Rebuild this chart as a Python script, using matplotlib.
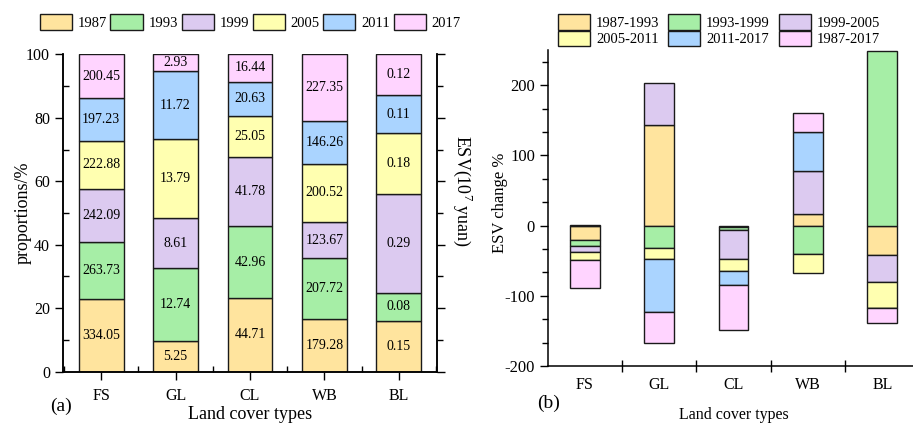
import numpy as np
import matplotlib
matplotlib.use('Agg')
from matplotlib import pyplot as plt
from matplotlib.ticker import MultipleLocator, FixedLocator, FixedFormatter, NullFormatter

plt.rcParams['font.family'] = ['Liberation Serif', 'DejaVu Serif']
plt.rcParams['mathtext.fontset'] = 'custom'
plt.rcParams['mathtext.rm'] = 'Liberation Serif'
plt.rcParams['axes.linewidth'] = 1.1
plt.rcParams['axes.unicode_minus'] = False

# land cover types
types = ['FS', 'GL', 'CL', 'WB', 'BL']

# (a) ESV (10^7 yuan) per year
years = ['1987', '1993', '1999', '2005', '2011', '2017']
esv_1987 = [334.05, 5.25, 44.71, 179.28, 0.15]
esv_1993 = [263.73, 12.74, 42.96, 207.72, 0.08]
esv_1999 = [242.09, 8.61, 41.78, 123.67, 0.29]
esv_2005 = [222.88, 13.79, 25.05, 200.52, 0.18]
esv_2011 = [197.23, 11.72, 20.63, 146.26, 0.11]
esv_2017 = [200.45, 2.93, 16.44, 227.35, 0.12]

# (b) ESV change %
periods = ['1987-1993', '1993-1999', '1999-2005', '2005-2011', '2011-2017', '1987-2017']
chg_1987_1993 = [-21.0, 142.6, -2.5, 15.9, -41.8]
chg_1993_1999 = [-8.0, -32.4, -3.5, -40.9, 249.0]
chg_1999_2005 = [-8.1, 60.5, -41.5, 61.8, -37.9]
chg_2005_2011 = [-11.9, -15.1, -17.0, -26.9, -37.7]
chg_2011_2017 = [1.0, -75.2, -20.3, 55.9, 0.0]
chg_1987_2017 = [-40.1, -44.4, -63.4, 26.4, -21.3]

colors = ['#FFE49E', '#A6EEA6', '#DCCAF0', '#FFFFB0', '#AAD4FF', '#FFD4FF']

fig = plt.figure(figsize=(9.13, 4.25), dpi=100)

# ---------------- (a) ----------------
ax1 = fig.add_axes([0.0693, 0.1254, 0.409, 0.7468])
esv = np.array([esv_1987, esv_1993, esv_1999, esv_2005, esv_2011, esv_2017])
share = esv / esv.sum(axis=0) * 100
x = np.arange(len(types))
bottom = np.zeros(len(types))
for i in range(len(years)):
    bars = ax1.bar(x, share[i], 0.6, bottom=bottom, color=colors[i],
                   edgecolor='#1a1a1a', linewidth=1.0, label=years[i])
    ax1.bar_label(bars, labels=['%.2f' % v for v in esv[i]], label_type='center',
                  fontsize=10)
    bottom += share[i]

ax1.set_xlim(-0.51, 4.51)
ax1.set_ylim(0, 100)
ax1.spines['top'].set_visible(False)
ax1.set_xticks(x)
ax1.set_xticklabels(types, fontsize=11.5)
ax1.xaxis.set_minor_locator(FixedLocator(np.arange(-0.5, 5, 1)))
ax1.tick_params(axis='x', which='major', direction='out', length=6, width=1, pad=6)
ax1.tick_params(axis='x', which='minor', direction='in', length=4, width=1)
ax1.yaxis.set_major_locator(MultipleLocator(20))
ax1.yaxis.set_minor_locator(MultipleLocator(10))
ax1.tick_params(axis='y', which='major', direction='out', length=6, width=1, labelsize=11.5)
ax1.tick_params(axis='y', which='minor', direction='in', length=4, width=1)
ax1.set_ylabel('proportions/%', fontsize=13)
ax1.yaxis.set_label_coords(-0.084, 0.5)
ax1.set_xlabel('Land cover types', fontsize=13)
ax1.xaxis.set_label_coords(0.5, -0.108)

ax1r = ax1.twinx()
ax1r.set_ylim(0, 100)
ax1r.spines['top'].set_visible(False)
ax1r.yaxis.set_major_locator(MultipleLocator(20))
ax1r.yaxis.set_minor_locator(MultipleLocator(10))
ax1r.yaxis.set_major_formatter(NullFormatter())
ax1r.tick_params(axis='y', which='major', direction='out', length=6, width=1)
ax1r.tick_params(axis='y', which='minor', direction='out', length=4, width=1)
fig.text(463 / 913, 1 - 191 / 425, r'ESV(10$^7$ yuan)', fontsize=13, rotation=270,
         ha='center', va='center')

ax1.legend(loc='center', bbox_to_anchor=(0.274, 0.948), bbox_transform=fig.transFigure,
           ncol=6, frameon=False, fontsize=10.5, handlelength=2.2, handleheight=1.3,
           handletextpad=0.4, columnspacing=0.25)
fig.text(0.055, 0.033, '(a)', fontsize=14)

# ---------------- (b) ----------------
ax2 = fig.add_axes([0.6005, 0.1388, 0.4066, 0.7435])
chg = np.array([chg_1987_1993, chg_1993_1999, chg_1999_2005,
                chg_2005_2011, chg_2011_2017, chg_1987_2017])
pos = np.zeros(len(types))
neg = np.zeros(len(types))
handles = []
for i in range(len(periods)):
    vals = chg[i]
    base = np.where(vals > 0, pos, neg)
    h = ax2.bar(x, vals, 0.4, bottom=base, color=colors[i], edgecolor='#1a1a1a',
                linewidth=1.0, label=periods[i])
    handles.append(h)
    pos += np.where(vals > 0, vals, 0)
    neg += np.where(vals > 0, 0, vals)

ax2.set_xlim(-0.49, 4.5)
ax2.set_ylim(-200, 250)
ax2.spines['top'].set_visible(False)
ax2.spines['right'].set_visible(False)
ax2.set_xticks(np.arange(0.5, 4, 1))
ax2.set_xticklabels([])
ax2.xaxis.set_minor_locator(FixedLocator(x))
ax2.xaxis.set_minor_formatter(FixedFormatter(types))
ax2.tick_params(axis='x', which='major', direction='inout', length=8, width=1)
ax2.tick_params(axis='x', which='minor', length=0, labelsize=11.5, pad=8)
ax2.yaxis.set_major_locator(MultipleLocator(100))
ax2.yaxis.set_minor_locator(MultipleLocator(100 / 3))
ax2.tick_params(axis='y', which='major', direction='out', length=6, width=1, labelsize=12)
ax2.tick_params(axis='y', which='minor', direction='out', length=4, width=1)
ax2.set_ylabel('ESV change %', fontsize=12)
ax2.yaxis.set_label_coords(-0.108, 0.516)
ax2.set_xlabel('Land cover types', fontsize=11.5, labelpad=10)

order = [0, 3, 1, 4, 2, 5]
ax2.legend([handles[k] for k in order], [periods[k] for k in order],
           loc='center', bbox_to_anchor=(0.7875, 0.929), bbox_transform=fig.transFigure,
           ncol=3, frameon=False, fontsize=10.5, handlelength=2.2, handleheight=1.3,
           handletextpad=0.4, columnspacing=0.6, labelspacing=0.05)
fig.text(0.588, 0.04, '(b)', fontsize=14)

plt.savefig('out.png', dpi=100)
